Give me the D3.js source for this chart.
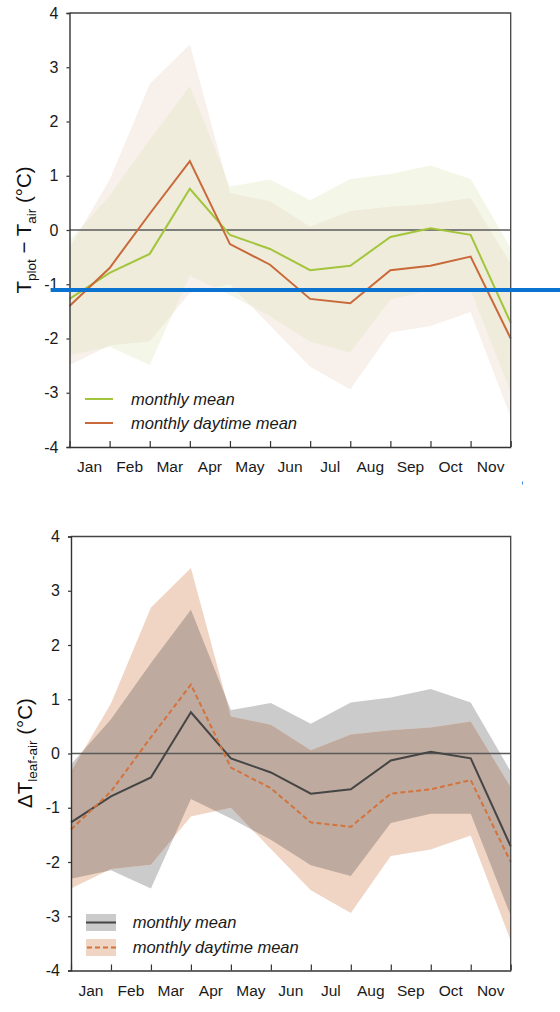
<!DOCTYPE html>
<html>
<head>
<meta charset="utf-8">
<script src="https://cdn.jsdelivr.net/npm/d3@7"></script>
<style>
  html, body { margin: 0; padding: 0; background: #fff; }
  svg { display: block; font-family: "Liberation Sans", Arial, sans-serif; }
</style>
</head>
<body>
<svg id="chart" width="560" height="1012"></svg>
<script>
// Month labels sit between boundary ticks; values are given at the 12 boundaries
const months = ["Jan", "Feb", "Mar", "Apr", "May", "Jun", "Jul", "Aug", "Sep", "Oct", "Nov"];
const boundaries = d3.range(12);

// Monthly mean temperature difference and its range
const meanValues = [-1.27, -0.79, -0.44, 0.76, -0.09, -0.35, -0.74, -0.66, -0.13, 0.03, -0.09, -1.71];
const meanUpper  = [-0.20, 0.63, 1.67, 2.65, 0.80, 0.93, 0.55, 0.94, 1.03, 1.19, 0.94, -0.33];
const meanLower  = [-2.31, -2.15, -2.49, -0.84, -1.20, -1.59, -2.06, -2.26, -1.28, -1.11, -1.11, -2.99];

// Monthly daytime mean and its range
const dayValues = [-1.40, -0.70, 0.30, 1.27, -0.26, -0.64, -1.27, -1.35, -0.74, -0.66, -0.49, -2.00];
const dayUpper  = [-0.33, 0.92, 2.69, 3.42, 0.68, 0.53, 0.06, 0.35, 0.43, 0.48, 0.59, -0.62];
const dayLower  = [-2.49, -2.13, -2.05, -1.16, -1.00, -1.76, -2.52, -2.94, -1.89, -1.77, -1.51, -3.45];

const yTickValues = [-4, -3, -2, -1, 0, 1, 2, 3, 4];
const yTickLabels = ["-4", "-3", "-2", "-1", "0", "1", "2", "3", "4"];

const legendLabels = ["monthly mean", "monthly daytime mean"];

const svg = d3.select("#chart");
const defs = svg.append("defs");

function drawPanel(p) {
  const g = svg.append("g");
  const x = d3.scaleLinear().domain([0, 11]).range([p.left, p.right]);
  const y = d3.scaleLinear().domain([-4, 4]).range([p.bottom, p.top]);

  const bandArea = (upper, lower) => d3.area()
    .x((d, i) => x(i))
    .y0((d, i) => y(lower[i]))
    .y1((d, i) => y(upper[i]))(boundaries);

  const meanBand = bandArea(meanUpper, meanLower);
  const dayBand = bandArea(dayUpper, dayLower);

  defs.append("clipPath").attr("id", p.id + "-meanclip")
    .append("path").attr("d", meanBand);

  // ranges: each band alone, then the overlap on top
  g.append("path").attr("d", meanBand).attr("fill", p.meanFill);
  g.append("path").attr("d", dayBand).attr("fill", p.dayFill);
  g.append("path").attr("d", dayBand).attr("fill", p.bothFill)
    .attr("clip-path", `url(#${p.id}-meanclip)`);

  // zero reference line
  g.append("line")
    .attr("x1", p.left).attr("x2", p.right)
    .attr("y1", y(0)).attr("y2", y(0))
    .attr("stroke", "#5a5a5a").attr("stroke-width", 1.3);

  const line = vals => d3.line().x((d, i) => x(i)).y((d, i) => y(vals[i]))(boundaries);

  g.append("path").attr("d", line(meanValues))
    .attr("fill", "none").attr("stroke", p.meanStroke).attr("stroke-width", 2)
    .attr("stroke-linejoin", "miter");
  g.append("path").attr("d", line(dayValues))
    .attr("fill", "none").attr("stroke", p.dayStroke).attr("stroke-width", 2)
    .attr("stroke-dasharray", p.dayDash || null);

  // frame: top and right edges
  g.append("path")
    .attr("d", `M${p.left},${p.top}H${p.right}V${p.bottom}`)
    .attr("fill", "none").attr("stroke", "#444").attr("stroke-width", 1.3);

  // y axis
  const yAxis = g.append("g").attr("transform", `translate(${p.left},0)`)
    .call(d3.axisLeft(y).tickValues(yTickValues).tickSize(3).tickPadding(8)
      .tickFormat((d, i) => yTickLabels[i]));
  yAxis.select(".domain").attr("stroke", "#333").attr("stroke-width", 1.4);
  yAxis.selectAll(".tick line").attr("stroke", "#333").attr("stroke-width", 1.2);
  yAxis.selectAll(".tick text").attr("font-size", 16).attr("fill", "#1a1a1a")
    .attr("font-family", "Liberation Sans, Arial, sans-serif");

  // x axis: inward ticks at month boundaries
  const xAxis = g.append("g").attr("transform", `translate(0,${p.bottom})`)
    .call(d3.axisBottom(x).tickValues(boundaries).tickSizeInner(-6).tickSizeOuter(0)
      .tickFormat(""));
  xAxis.select(".domain").attr("stroke", "#333").attr("stroke-width", 1.4);
  xAxis.selectAll(".tick line").attr("stroke", "#333").attr("stroke-width", 1.2);

  g.selectAll(".month").data(months).join("text")
    .attr("x", (d, i) => x(i + 0.5))
    .attr("y", p.bottom + 25)
    .attr("text-anchor", "middle")
    .attr("font-size", 15.5).attr("fill", "#1a1a1a")
    .text(d => d);

  return { g, x, y };
}

// ---------- upper panel ----------
const upperPanel = drawPanel({
  id: "upper", left: 69.5, right: 510.7, top: 13, bottom: 447,
  meanFill: "#f4f7e7", dayFill: "#f8f0ea", bothFill: "#efecdb",
  meanStroke: "#a3c53c", dayStroke: "#c9693a"
});

const lab1 = svg.append("text")
  .attr("transform", "translate(31,230) rotate(-90)")
  .attr("text-anchor", "middle").attr("font-size", 20.5).attr("fill", "#111");
lab1.append("tspan").text("T");
lab1.append("tspan").attr("font-size", 13.5).attr("dy", 5).text("plot");
lab1.append("tspan").attr("dy", -5).text(" \u2212 T");
lab1.append("tspan").attr("font-size", 13.5).attr("dy", 5).text("air");
lab1.append("tspan").attr("dy", -5).text(" (\u00B0C)");

const leg1 = svg.append("g");
[["#a3c53c", 399], ["#c9693a", 423]].forEach(([c, yy], i) => {
  leg1.append("line").attr("x1", 85).attr("x2", 113).attr("y1", yy).attr("y2", yy)
    .attr("stroke", c).attr("stroke-width", 2);
  leg1.append("text").attr("x", 131).attr("y", yy).attr("dy", "0.35em")
    .attr("font-size", 16.5).attr("font-style", "italic").attr("fill", "#1a1a1a")
    .text(legendLabels[i]);
});

// highlight marker across the upper panel
svg.append("rect").attr("x", 50.7).attr("y", 288).attr("width", 560 - 50.7).attr("height", 4)
  .attr("fill", "#0a73d1");
svg.append("rect").attr("x", 522).attr("y", 481.5).attr("width", 1).attr("height", 3)
  .attr("fill", "#3d8fdc");

// ---------- lower panel ----------
const lowerPanel = drawPanel({
  id: "lower", left: 71, right: 510.7, top: 536.5, bottom: 970.5,
  meanFill: "#cbcbcb", dayFill: "#f0d5c5", bothFill: "#beaa9e",
  meanStroke: "#454545", dayStroke: "#d3733b", dayDash: "5,3"
});

const lab2 = svg.append("text")
  .attr("transform", "translate(32,753) rotate(-90)")
  .attr("text-anchor", "middle").attr("font-size", 20.5).attr("fill", "#111");
lab2.append("tspan").text("\u0394T");
lab2.append("tspan").attr("font-size", 13.5).attr("dy", 5).text("leaf-air");
lab2.append("tspan").attr("dy", -5).text(" (\u00B0C)");

const leg2 = svg.append("g");
leg2.append("rect").attr("x", 86).attr("y", 914).attr("width", 30).attr("height", 17).attr("fill", "#cbcbcb");
leg2.append("line").attr("x1", 86).attr("x2", 116).attr("y1", 922.5).attr("y2", 922.5)
  .attr("stroke", "#454545").attr("stroke-width", 2);
leg2.append("rect").attr("x", 86).attr("y", 939).attr("width", 30).attr("height", 17).attr("fill", "#f0d5c5");
leg2.append("line").attr("x1", 87).attr("x2", 116).attr("y1", 947.5).attr("y2", 947.5)
  .attr("stroke", "#d3733b").attr("stroke-width", 2).attr("stroke-dasharray", "5,3");
[922.5, 947.5].forEach((yy, i) => {
  leg2.append("text").attr("x", 132.7).attr("y", yy).attr("dy", "0.35em")
    .attr("font-size", 16.5).attr("font-style", "italic").attr("fill", "#1a1a1a")
    .text(legendLabels[i]);
});
</script>
</body>
</html>
